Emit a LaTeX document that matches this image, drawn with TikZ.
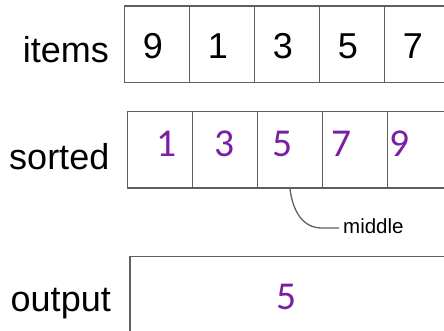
\documentclass[tikz,border=0pt]{standalone}
\usepackage{fontspec}
\setmainfont{Liberation Sans}
\newfontfamily\digfont{Carlito}
\definecolor{linegray}{RGB}{95,95,95}
\definecolor{purp}{RGB}{123,31,162}
\tikzset{
  cell/.style={draw=linegray, line width=1.5pt, minimum width=65pt, minimum height=76.5pt, inner sep=0pt},
  lbl/.style={anchor=base east, inner sep=0pt, font=\fontsize{36}{40}\selectfont},
  blackdig/.style={anchor=base, inner sep=0pt, font=\fontsize{36}{40}\selectfont},
  purpdig/.style={anchor=base, inner sep=0pt, text=purp, font=\digfont\fontsize{39.5}{44}\selectfont},
  smalllbl/.style={anchor=base west, inner sep=0pt, font=\fontsize{20.5}{24}\selectfont},
  conn/.style={draw=linegray, line width=1.3pt}
}
\begin{document}
\begin{tikzpicture}[x=1pt,y=-1pt]
\useasboundingbox (0,0) rectangle (444,331);
\clip (0,0) rectangle (444,331);
% items row
\foreach \k in {0,...,5} {
  \node[cell] (i\k) at ({157+65*\k},44.25) {};
}
\node[lbl] (litems) at (109,63) {items};
\node[blackdig] (d1) at (153,59) {9};
\node[blackdig] (d2) at (218,59) {1};
\node[blackdig] (d3) at (283,59) {3};
\node[blackdig] (d4) at (348,59) {5};
\node[blackdig] (d5) at (413,59) {7};
% sorted row
\foreach \k in {0,...,5} {
  \node[cell] (s\k) at ({160+65*\k},150) {};
}
\node[lbl] (lsorted) at (109.5,170) {sorted};
\node[purpdig] (p1) at (166.5,157) {1};
\node[purpdig] (p2) at (225,157) {3};
\node[purpdig] (p3) at (283,157) {5};
\node[purpdig] (p4) at (342,157) {7};
\node[purpdig] (p5) at (400,157) {9};
% middle pointer
\node[smalllbl] (mid) at (343,233) {middle};
\coordinate (midend) at (339,228);
\draw[conn] (s2.south) .. controls (293,212) and (303,228) .. (322,228) -- (midend);
% output
\node[draw=linegray, line width=1.5pt, minimum width=340pt, minimum height=100pt, inner sep=0pt, anchor=north west] (out) at (129,255.5) {};
\node[lbl] (loutput) at (111,311.5) {output};
\node[purpdig] (o5) at (286.5,309) {5};
\end{tikzpicture}
\end{document}
